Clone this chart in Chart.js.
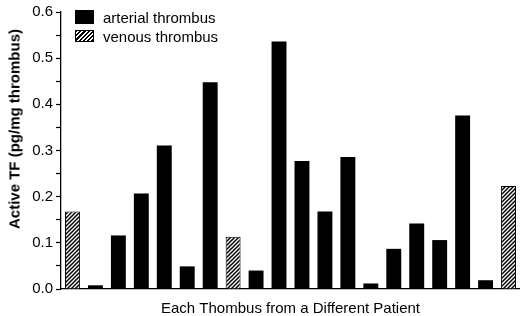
<!DOCTYPE html>
<html>
<head>
<meta charset="utf-8">
<script src="https://cdn.jsdelivr.net/npm/chart.js@4/dist/chart.umd.min.js"></script>
<style>
  html, body { margin: 0; padding: 0; background: #fff; }
  #wrap { position: relative; width: 520px; height: 316px; font-family: "Liberation Sans", Arial, sans-serif; color: #000; }
  canvas { position: absolute; left: 0; top: 0; }
  .ytitle { position: absolute; left: 14px; top: 129px; transform: translate(-50%, -50%) rotate(-90deg);
            white-space: nowrap; font-weight: bold; font-size: 15px; line-height: 1; }
  .leg { position: absolute; left: 75px; font-size: 15px; line-height: 1; white-space: nowrap; }
  .leg .box { position: absolute; left: 0; width: 19px; box-sizing: border-box; }
  .leg .lab { position: absolute; left: 28px; }
  .hatch { background: #fff repeating-linear-gradient(-45deg, #000 0px, #000 1.5px, #fff 1.5px, #fff 3px); border: 1px solid #000; }
</style>
</head>
<body>
<div id="wrap">
  <canvas id="c" width="520" height="316"></canvas>
  <div class="ytitle">Active TF (pg/mg thrombus)</div>
  <div class="leg" style="top:10px;"><div class="box" style="top:0;height:14px;background:#000;"></div><div class="lab" style="top:0px;">arterial thrombus</div></div>
  <div class="leg" style="top:30px;"><div class="box hatch" style="top:0;height:12px;"></div><div class="lab" style="top:-1px;">venous thrombus</div></div>
</div>
<script>
const categories = ["1","2","3","4","5","6","7","8","9","10","11","12","13","14","15","16","17","18","19","20"];
const arterialValues = [null, 0.008, 0.116, 0.207, 0.311, 0.049, 0.448, null, 0.040, 0.536, 0.277, 0.168, 0.286, 0.012, 0.087, 0.142, 0.106, 0.376, 0.019, null];
const venousValues   = [0.168, null, null, null, null, null, null, 0.113, null, null, null, null, null, null, null, null, null, null, null, 0.223];
const yTickValues = [0.0, 0.1, 0.2, 0.3, 0.4, 0.5, 0.6];
const xTitle = "Each Thombus from a Different Patient";

function makeHatch() {
  const s = 4;
  const p = document.createElement('canvas');
  p.width = s; p.height = s;
  const g = p.getContext('2d');
  g.fillStyle = '#fff'; g.fillRect(0, 0, s, s);
  g.strokeStyle = '#000'; g.lineWidth = 1.5;
  g.beginPath();
  g.moveTo(0, s); g.lineTo(s, 0);
  g.moveTo(-1, 1); g.lineTo(1, -1);
  g.moveTo(s - 1, s + 1); g.lineTo(s + 1, s - 1);
  g.stroke();
  return document.getElementById('c').getContext('2d').createPattern(p, 'repeat');
}

const FONT = '"Liberation Sans", Arial, sans-serif';
Chart.defaults.font.family = FONT;
Chart.defaults.color = '#000';

new Chart(document.getElementById('c'), {
  type: 'bar',
  data: {
    labels: categories,
    datasets: [
      { label: 'arterial thrombus', data: arterialValues, backgroundColor: '#000', borderWidth: 0,
        categoryPercentage: 1, barPercentage: 0.65 },
      { label: 'venous thrombus', data: venousValues, backgroundColor: makeHatch(), borderColor: '#000', borderWidth: 1,
        categoryPercentage: 1, barPercentage: 0.65 }
    ]
  },
  options: {
    responsive: false,
    animation: false,
    layout: { padding: { top: 8, left: 0, right: 0, bottom: 0 } },
    plugins: { legend: { display: false }, tooltip: { enabled: false } },
    scales: {
      x: {
        stacked: true,
        grid: { display: false, drawTicks: false },
        border: { display: true, color: '#000', width: 1.3 },
        ticks: { display: false },
        title: { display: true, text: xTitle, font: { size: 15, lineHeight: 1 }, padding: { top: 0, bottom: 0 }, color: '#000' },
        afterFit: s => { s.height = 27; }
      },
      y: {
        stacked: true,
        min: 0, max: 0.6,
        ticks: {
          stepSize: 0.05,
          padding: 3,
          font: { size: 15 },
          color: '#000',
          callback: v => {
            const r = Math.round(v * 100);
            return (r % 10 === 0 && yTickValues.includes(r / 100)) ? (r / 100).toFixed(1) : '';
          }
        },
        grid: { drawOnChartArea: false, drawTicks: true, tickLength: 5, color: '#000', tickWidth: 1.2 },
        border: { display: true, color: '#000', width: 1.3 },
        afterFit: s => { s.width = 61; }
      }
    }
  }
});
</script>
</body>
</html>
